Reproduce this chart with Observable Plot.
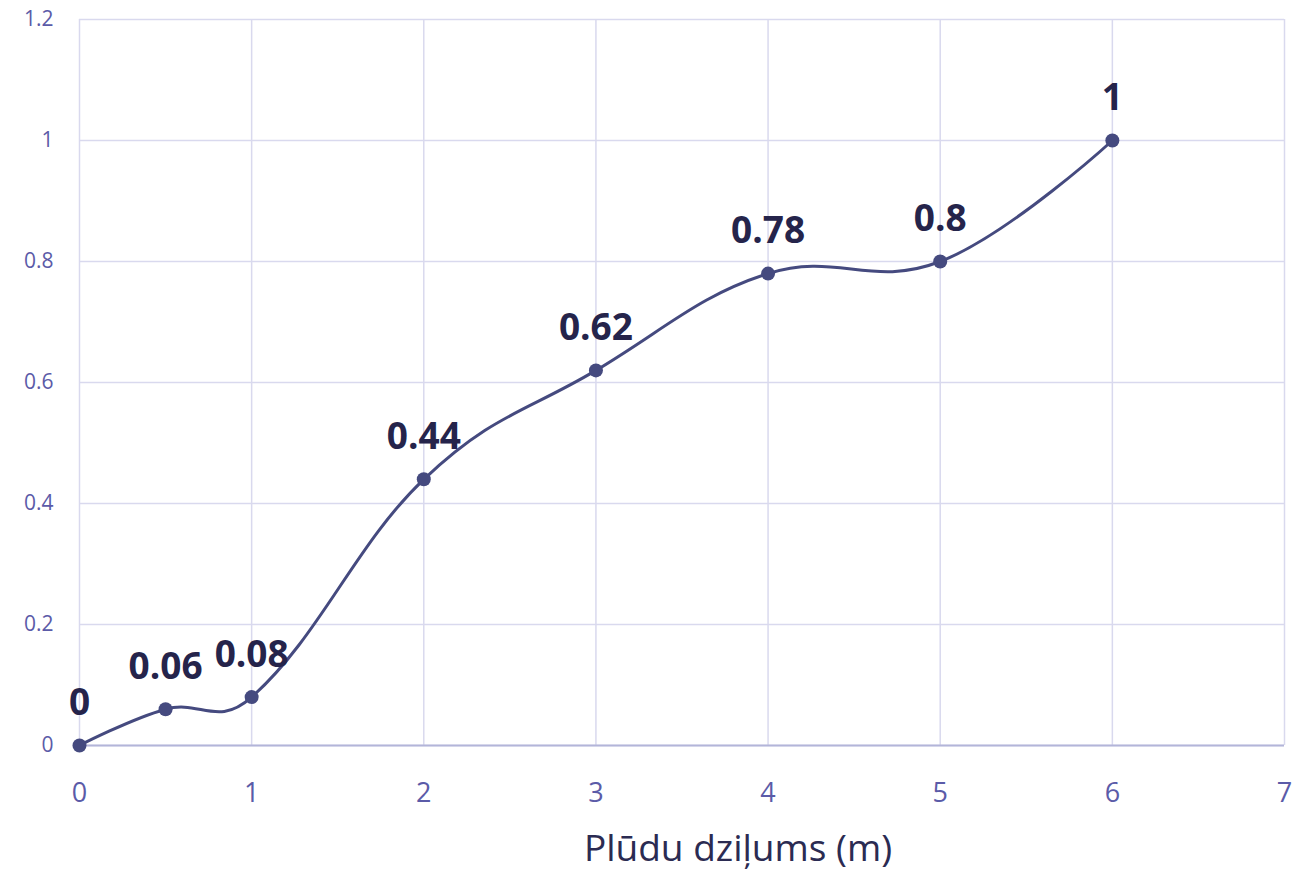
<!DOCTYPE html>
<html><head><meta charset="utf-8">
<script src="https://cdn.jsdelivr.net/npm/d3@7"></script>
<script src="https://cdn.jsdelivr.net/npm/@observablehq/plot@0.6"></script>
<style>
html,body{margin:0;padding:0;background:#fff;}
</style>
</head><body>
<div id="chart"></div>
<script>
const depths = [0, 0.5, 1, 2, 3, 4, 5, 6];
const values = [0, 0.06, 0.08, 0.44, 0.62, 0.78, 0.8, 1];
const xTicks = [0, 1, 2, 3, 4, 5, 6, 7];
const yTicks = [0, 0.2, 0.4, 0.6, 0.8, 1, 1.2];
const xLabel = "Plūdu dziļums (m)";

const data = depths.map((d, i) => ({x: d, y: values[i]}));

// Spline curve (smoothing 1.5, tangent through neighbouring weighted control points)
function SplineCurve(context) { this._context = context; }
SplineCurve.prototype = {
  areaStart() { this._line = 0; },
  areaEnd() { this._line = NaN; },
  lineStart() { this._px = []; this._py = []; },
  point(x, y) { this._px.push(+x); this._py.push(+y); },
  lineEnd() {
    const X = this._px, Y = this._py, n = X.length, c = this._context;
    if (!n) return;
    const s = 1.5, den = s + 1;
    const lx = X.slice(), ly = Y.slice(), rx = X.slice(), ry = Y.slice();
    for (let i = 1; i < n - 1; i++) {
      const a = (s * X[i] + X[i - 1]) / den, b = (s * Y[i] + Y[i - 1]) / den;
      const e = (s * X[i] + X[i + 1]) / den, f = (s * Y[i] + Y[i + 1]) / den;
      const corr = ((f - b) * (e - X[i])) / (e - a) + Y[i] - f;
      lx[i] = a; ly[i] = b + corr; rx[i] = e; ry[i] = f + corr;
    }
    c.moveTo(X[0], Y[0]);
    for (let i = 1; i < n; i++) c.bezierCurveTo(rx[i - 1], ry[i - 1], lx[i], ly[i], X[i], Y[i]);
  }
};
const splineCurve = (context) => new SplineCurve(context);

const chart = Plot.plot({
  width: 1314,
  height: 885,
  marginLeft: 79,
  marginRight: 30,
  marginTop: 19,
  marginBottom: 140,
  style: {fontFamily: "'Open Sans', 'Noto Sans', sans-serif", background: "#fff"},
  x: {domain: [0, 7], ticks: xTicks, label: null},
  y: {domain: [0, 1.2], ticks: yTicks, label: null},
  marks: [
    Plot.gridX(xTicks, {stroke: "#d9d9ee", strokeOpacity: 1, strokeWidth: 1.5}),
    Plot.gridY(yTicks, {stroke: "#d9d9ee", strokeOpacity: 1, strokeWidth: 1.5}),
    Plot.ruleY([0], {stroke: "#b3b5d9", strokeWidth: 2}),
    Plot.axisX({ticks: xTicks, tickSize: 0, tickPadding: 37, fontSize: 27, fill: "#5b5ba8", tickFormat: d3.format("d")}),
    Plot.axisY({ticks: yTicks, tickSize: 0, tickPadding: 26, fontSize: 21, fill: "#5b5ba8", tickFormat: d => String(+d.toFixed(1))}),
    Plot.text([xLabel], {frameAnchor: "bottom", dx: 56, dy: 115, fontSize: 37, fill: "#2b2b52"}),
    Plot.line(data, {x: "x", y: "y", curve: splineCurve, stroke: "#454a7f", strokeWidth: 3}),
    Plot.dot(data, {x: "x", y: "y", r: 7, fill: "#454a7f"}),
    Plot.text(data, {x: "x", y: "y", text: d => String(d.y), dy: -42, fontSize: 37, fontWeight: "bold", fill: "#25244b"})
  ]
});
document.getElementById("chart").appendChild(chart);
</script>
</body></html>
